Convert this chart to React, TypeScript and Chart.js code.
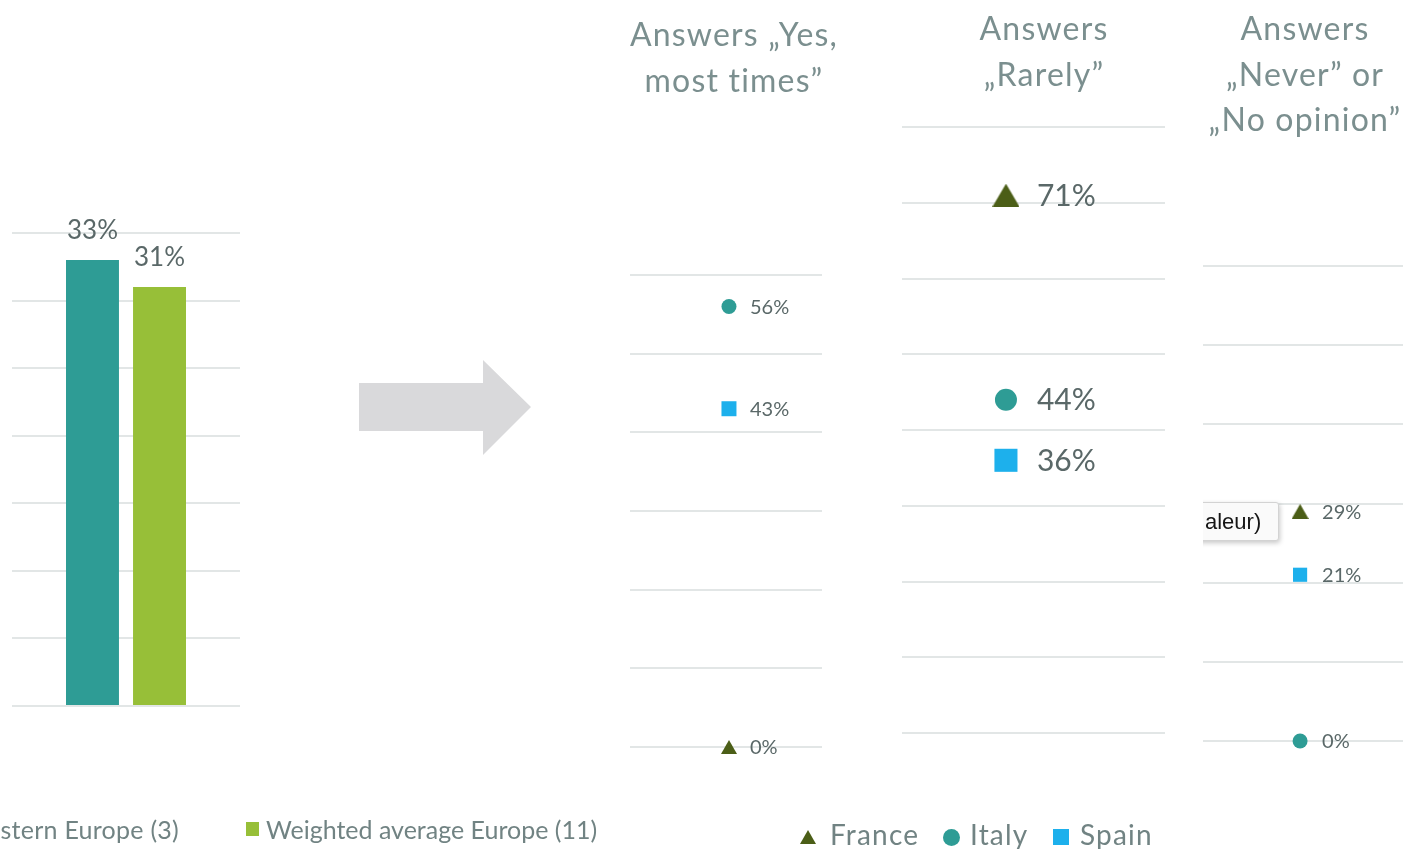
import React, { useEffect, useRef } from "react";
import { Chart, registerables } from "chart.js";

Chart.register(...registerables);

// ---------------- data ----------------
const barCategories = ["Share"];
const barSeries = ["stern Europe (3)", "Weighted average Europe (11)"];
const barValues = [33, 31];
const barAxisMax = 35;
const barAxisStep = 5;

const countries = ["France", "Italy", "Spain"];
const panelTitles = [
  ["Answers „Yes,", "most times”"],
  ["Answers", "„Rarely”"],
  ["Answers", "„Never” or", "„No opinion”"],
];
const yesMostTimes = [0, 56, 43];
const rarely = [71, 44, 36];
const neverOrNoOpinion = [29, 0, 21];
const panelAxisMax = [60, 80, 60];
const panelAxisStep = [10, 10, 10];
const tooltipFragment = "aleur)";

// ---------------- styles ----------------
const TEAL = "#2e9c95";
const GREEN = "#97bf38";
const OLIVE = "#4b5e17";
const BLUE = "#1db0ec";
const GRID = "#e2e6e6";
const TITLE = "#7b8f8f";
const LABEL = "#5a6868";
const LEGEND = "#718383";
const FONT = "Lato, 'Noto Sans', sans-serif";
const countryColors = [OLIVE, TEAL, BLUE];

type PanelLayout = {
  left: number; top: number; width: number; height: number;
  pad: { left: number; right: number; top: number; bottom: number };
  xMax: number; tri: [number, number]; circle: number; square: number;
  fontSize: number; offset: number;
};

const panels: PanelLayout[] = [
  { left: 620, top: 250, width: 215, height: 520, pad: { left: 10, right: 13, top: 25, bottom: 23 }, xMax: 0.94, tri: [16, 14], circle: 7.5, square: 10.6, fontSize: 20, offset: 21 },
  { left: 895, top: 110, width: 280, height: 640, pad: { left: 7, right: 10, top: 17, bottom: 17 }, xMax: 1.53, tri: [27, 23], circle: 11, square: 16.3, fontSize: 30, offset: 31 },
  { left: 1195, top: 240, width: 214, height: 520, pad: { left: 8, right: 6, top: 26, bottom: 19 }, xMax: 1.06, tri: [17, 15], circle: 7.5, square: 10, fontSize: 20, offset: 22 },
];
const panelValues = [yesMostTimes, rarely, neverOrNoOpinion];

function makeTriangle(w: number, h: number, color: string) {
  const c = document.createElement("canvas");
  c.width = w;
  c.height = h;
  const ctx = c.getContext("2d")!;
  ctx.fillStyle = color;
  ctx.beginPath();
  ctx.moveTo(w / 2, 0);
  ctx.lineTo(w, h);
  ctx.lineTo(0, h);
  ctx.closePath();
  ctx.fill();
  return c;
}

function ChartCanvas(props: { left: number; top: number; width: number; height: number; make: () => any }) {
  const ref = useRef<HTMLCanvasElement>(null);
  useEffect(() => {
    const chart = new Chart(ref.current as HTMLCanvasElement, props.make());
    return () => chart.destroy();
  }, []);
  return (
    <canvas
      ref={ref}
      width={props.width}
      height={props.height}
      style={{ position: "absolute", left: props.left, top: props.top, width: props.width, height: props.height }}
    />
  );
}

const hiddenY = (max: number, step: number) => ({
  min: 0,
  max,
  ticks: { stepSize: step, display: false },
  grid: { color: GRID, lineWidth: 2, drawTicks: false },
  border: { display: false },
  afterFit(s: any) { s.width = 0; },
});

function makeBarConfig() {
  const barLabelPlugin = {
    id: "barLabels",
    afterDatasetsDraw(chart: any) {
      const ctx = chart.ctx;
      ctx.save();
      ctx.font = `26px ${FONT}`;
      ctx.fillStyle = LABEL;
      ctx.textAlign = "center";
      ctx.textBaseline = "bottom";
      chart.data.datasets.forEach((ds: any, i: number) => {
        chart.getDatasetMeta(i).data.forEach((el: any, j: number) => {
          ctx.fillText(`${ds.data[j]}%`, el.x, el.y - 16);
        });
      });
      ctx.restore();
    },
  };
  return {
    type: "bar",
    data: {
      labels: barCategories,
      datasets: barSeries.map((name, i) => ({
        label: name,
        data: [barValues[i]],
        backgroundColor: [TEAL, GREEN][i],
        categoryPercentage: 0.588,
        barPercentage: 0.79,
      })),
    },
    options: {
      responsive: false,
      animation: false,
      layout: { autoPadding: false, padding: { left: 12, right: 10, top: 33, bottom: 14 } },
      plugins: { legend: { display: false }, tooltip: { enabled: false } },
      scales: {
        x: { display: false },
        y: hiddenY(barAxisMax, barAxisStep),
      },
    },
    plugins: [barLabelPlugin],
  };
}

function makePointConfig(p: PanelLayout, values: number[], max: number, step: number) {
  const styles: any[] = [makeTriangle(p.tri[0], p.tri[1], OLIVE), "circle", "rect"];
  const radii = [p.tri[0] / 2, p.circle, p.square];
  const labelPlugin = {
    id: "pointLabels",
    afterDatasetsDraw(chart: any) {
      const ctx = chart.ctx;
      ctx.save();
      ctx.font = `${p.fontSize}px ${FONT}`;
      ctx.fillStyle = LABEL;
      ctx.textAlign = "left";
      ctx.textBaseline = "middle";
      chart.data.datasets.forEach((ds: any, i: number) => {
        chart.getDatasetMeta(i).data.forEach((el: any, j: number) => {
          ctx.fillText(`${ds.data[j].y}%`, el.x + p.offset, el.y + 1);
        });
      });
      ctx.restore();
    },
  };
  return {
    type: "scatter",
    data: {
      datasets: countries.map((c, i) => ({
        label: c,
        data: [{ x: 0, y: values[i] }],
        pointStyle: styles[i],
        pointRadius: radii[i],
        backgroundColor: countryColors[i],
        borderWidth: 0,
        pointBorderWidth: 0,
        clip: false,
      })),
    },
    options: {
      responsive: false,
      animation: false,
      layout: { autoPadding: false, padding: p.pad },
      plugins: { legend: { display: false }, tooltip: { enabled: false } },
      scales: {
        x: { type: "linear", min: -1, max: p.xMax, display: false },
        y: hiddenY(max, step),
      },
    },
    plugins: [labelPlugin],
  };
}

const titleCenters = [734, 1044, 1305];
const titleTops = [11, 5, 5];

function Marker({ kind, size, color }: { kind: string; size: number; color: string }) {
  return (
    <svg width={size} height={size} style={{ display: "block" }}>
      {kind === "triangle" && <polygon points={`${size / 2},1 ${size},${size - 1} 0,${size - 1}`} fill={color} />}
      {kind === "circle" && <circle cx={size / 2} cy={size / 2} r={size / 2} fill={color} />}
      {kind === "rect" && <rect x={0} y={0} width={size} height={size} fill={color} />}
    </svg>
  );
}

export default function App() {
  const legendItems = [
    { kind: "triangle", x: 800, size: 16, tx: 830 },
    { kind: "circle", x: 943, size: 17, tx: 970 },
    { kind: "rect", x: 1053, size: 16, tx: 1080 },
  ];
  return (
    <div style={{ position: "absolute", left: 0, top: 0, width: 1409, height: 849, overflow: "hidden", background: "#fff", fontFamily: FONT }}>
      <ChartCanvas left={0} top={200} width={250} height={520} make={makeBarConfig} />

      <svg width={1409} height={849} style={{ position: "absolute", left: 0, top: 0, pointerEvents: "none" }}>
        <polygon points="359,383 483,383 483,360 531,407 483,455 483,431 359,431" fill="#d9d9db" />
      </svg>

      {panels.map((p, i) => (
        <ChartCanvas
          key={i}
          left={p.left}
          top={p.top}
          width={p.width}
          height={p.height}
          make={() => makePointConfig(p, panelValues[i], panelAxisMax[i], panelAxisStep[i])}
        />
      ))}

      {panelTitles.map((lines, i) => (
        <div
          key={i}
          style={{
            position: "absolute",
            left: titleCenters[i] - 150,
            width: 300,
            top: titleTops[i],
            textAlign: "center",
            color: TITLE,
            fontSize: 32,
            letterSpacing: "1.2px",
            lineHeight: "45.5px",
            whiteSpace: "nowrap",
          }}
        >
          {lines.map((l, j) => (
            <div key={j}>{l}</div>
          ))}
        </div>
      ))}

      {/* tooltip fragment, clipped by the third panel */}
      <div style={{ position: "absolute", left: 1203, top: 490, width: 88, height: 64, overflow: "hidden" }}>
        <div
          style={{
            position: "absolute",
            left: -40,
            top: 12,
            width: 116,
            height: 39,
            boxSizing: "border-box",
            background: "#fafafa",
            border: "1px solid #d3d3d3",
            borderRadius: 3,
            boxShadow: "1px 2px 5px rgba(0,0,0,0.22)",
          }}
        />
        <div style={{ position: "absolute", left: 2, top: 17, fontFamily: "'Liberation Sans', Arial, sans-serif", fontSize: 22, lineHeight: "30px", color: "#151515" }}>
          {tooltipFragment}
        </div>
      </div>

      {/* left legend */}
      <div style={{ position: "absolute", right: 1409 - 179, top: 814, fontSize: 25, letterSpacing: "0.25px", lineHeight: "30px", color: LEGEND, whiteSpace: "nowrap" }}>
        {barSeries[0]}
      </div>
      <div style={{ position: "absolute", left: 246, top: 822, width: 13, height: 14, background: GREEN }} />
      <div style={{ position: "absolute", left: 266, top: 814, fontSize: 25, lineHeight: "30px", color: LEGEND, whiteSpace: "nowrap" }}>
        {barSeries[1]}
      </div>

      {/* right legend */}
      {legendItems.map((it, i) => (
        <React.Fragment key={i}>
          <div style={{ position: "absolute", left: it.x, top: 835 - it.size / 2 + 2 }}>
            <Marker kind={it.kind} size={it.size} color={countryColors[i]} />
          </div>
          <div style={{ position: "absolute", left: it.tx, top: 818, fontSize: 28, letterSpacing: "1.2px", lineHeight: "32px", color: LEGEND, whiteSpace: "nowrap" }}>
            {countries[i]}
          </div>
        </React.Fragment>
      ))}
    </div>
  );
}
